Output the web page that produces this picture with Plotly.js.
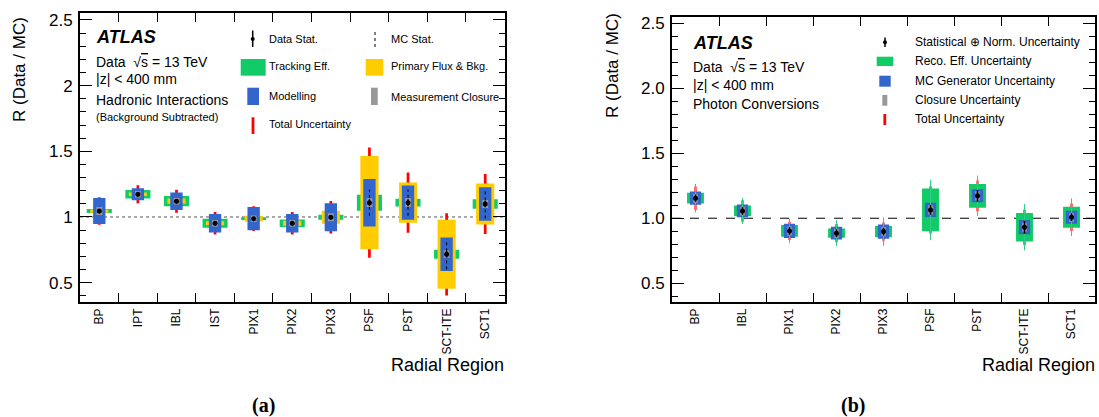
<!DOCTYPE html>
<html>
<head>
<meta charset="utf-8">
<script src="https://cdn.plot.ly/plotly-3.0.1.min.js"></script>
<style>html,body{margin:0;padding:0;background:#fff;}#chart{width:1099px;height:417px;}</style>
</head>
<body>
<div id="chart"></div>
<script>
// ---------- Panel (a): hadronic interactions ----------
const regionsA   = ['BP','IPT','IBL','IST','PIX1','PIX2','PIX3','PSF','PST','SCT-ITE','SCT1'];
const ratioA     = [1.045, 1.173, 1.120, 0.952, 0.987, 0.952, 0.998, 1.109, 1.109, 0.716, 1.099];
const totalA     = [0.105, 0.068, 0.088, 0.085, 0.094, 0.085, 0.123, 0.420, 0.230, 0.313, 0.228];
const trackingA  = [0.015, 0.033, 0.039, 0.034, 0.010, 0.028, 0.019, 0.061, 0.029, 0.034, 0.036];
const fluxA      = [0.012, 0.013, 0.020, 0.015, 0.022, 0.020, 0.050, 0.355, 0.153, 0.263, 0.156];
const modellingA = [0.099, 0.046, 0.067, 0.070, 0.088, 0.070, 0.107, 0.181, 0.130, 0.127, 0.127];
const closureA   = [0.030, 0.025, 0.025, 0.025, 0.025, 0.025, 0.030, 0.034, 0.034, 0.028, 0.030];
const dataStatA  = [0.012, 0.012, 0.012, 0.012, 0.012, 0.012, 0.012, 0.025, 0.025, 0.025, 0.025];
const mcStatA    = [0.020, 0.020, 0.020, 0.020, 0.020, 0.020, 0.020, 0.100, 0.100, 0.115, 0.110];

// ---------- Panel (b): photon conversions ----------
const regionsB   = ['BP','IBL','PIX1','PIX2','PIX3','PSF','PST','SCT-ITE','SCT1'];
const ratioB     = [1.154, 1.056, 0.902, 0.885, 0.897, 1.064, 1.172, 0.931, 1.008];
const statNormB  = [0.028, 0.030, 0.030, 0.030, 0.030, 0.038, 0.045, 0.050, 0.030];
const recoB      = [0.041, 0.041, 0.045, 0.036, 0.044, 0.164, 0.091, 0.110, 0.081];
const generatorB = [0.051, 0.049, 0.055, 0.049, 0.054, 0.055, 0.050, 0.055, 0.050];
const closureB   = [0.035, 0.035, 0.035, 0.035, 0.035, 0.035, 0.035, 0.035, 0.035];
const totalB     = [0.090, 0.083, 0.070, 0.070, 0.070, 0.182, 0.118, 0.137, 0.106];
const recoLineB  = [0.110, 0.100, 0.095, 0.100, 0.110, 0.233, 0.156, 0.178, 0.145];

const C = {green:'#11cc66', yellow:'#ffcc00', blue:'#3366cc', gray:'#999999', red:'#ff0000'};
const FONT = 'Liberation Sans, Arial, Helvetica, sans-serif';

function band(x, c, e, width, color, xa, ya) {
  return {type:'bar', x:x, y:e.map(v=>2*v), base:c.map((v,i)=>v-e[i]), width:width,
    marker:{color:color, line:{width:0}}, xaxis:xa, yaxis:ya, showlegend:false, hoverinfo:'skip'};
}
function segs(x, c, e, color, width, dash, xa, ya) {
  const xs=[], ys=[];
  x.forEach((k,i)=>{ xs.push(k,k,null); ys.push(c[i]-e[i], c[i]+e[i], null); });
  return {type:'scatter', mode:'lines', x:xs, y:ys, line:{color:color, width:width, dash:dash},
    xaxis:xa, yaxis:ya, showlegend:false, hoverinfo:'skip', connectgaps:false};
}
function stat(x, c, e, xa, ya) {
  return {type:'scatter', mode:'markers', x:x, y:c, marker:{color:'black', size:5},
    error_y:{type:'data', array:e, visible:true, width:0, thickness:1.5, color:'black'},
    xaxis:xa, yaxis:ya, showlegend:false, hoverinfo:'skip'};
}

const traces = [
  band(regionsA, ratioA, totalA, 0.07, C.red, 'x', 'y'),
  band(regionsA, ratioA, trackingA, 0.65, C.green, 'x', 'y'),
  band(regionsA, ratioA, fluxA, 0.47, C.yellow, 'x', 'y'),
  band(regionsA, ratioA, modellingA, 0.32, C.blue, 'x', 'y'),
  band(regionsA, ratioA, closureA, 0.15, C.gray, 'x', 'y'),
  segs(regionsA, ratioA, mcStatA, 'black', 1, 'dot', 'x', 'y'),
  stat(regionsA, ratioA, dataStatA, 'x', 'y'),

  segs(regionsB, ratioB, recoLineB, '#33cc88', 1, 'solid', 'x2', 'y2'),
  band(regionsB, ratioB, totalB, 0.045, C.red, 'x2', 'y2'),
  band(regionsB, ratioB, recoB, 0.36, C.green, 'x2', 'y2'),
  band(regionsB, ratioB, generatorB, 0.24, C.blue, 'x2', 'y2'),
  band(regionsB, ratioB, closureB, 0.10, C.gray, 'x2', 'y2'),
  stat(regionsB, ratioB, statNormB, 'x2', 'y2')
];

const W = 1099, H = 417;
const px = v => v / W, py = v => 1 - v / H;

function xAxis(domain, cats, anchor) {
  return {domain:domain, anchor:anchor, type:'category', categoryorder:'array', categoryarray:cats,
    range:[-0.5, cats.length-0.5], tickson:'boundaries', ticks:'inside', ticklen:9, tickwidth:1,
    tickcolor:'black', showline:true, linecolor:'black', linewidth:2, mirror:'allticks',
    tickangle:-90, tickfont:{family:FONT, size:12, color:'black'}, showgrid:false, zeroline:false,
    fixedrange:true};
}
function yAxis(domain, anchor, fmt, range) {
  return {domain:domain, anchor:anchor, range:range, tick0:0.5, dtick:0.5, tickformat:fmt,
    ticks:'inside', ticklen:12, tickwidth:1, tickcolor:'black',
    minor:{dtick:0.1, tick0:0, ticks:'inside', ticklen:6, tickwidth:1, tickcolor:'black', showgrid:false},
    showline:true, linecolor:'black', linewidth:2, mirror:'allticks', showgrid:false, zeroline:false,
    tickfont:{family:FONT, size:17, color:'black'}, ticklabelstandoff:2, fixedrange:true};
}

const shapes = [
  {type:'line', xref:'x domain', yref:'y', x0:0, x1:1, y0:1, y1:1, layer:'below', line:{color:'#555', width:1, dash:'dot'}},
  {type:'line', xref:'x2 domain', yref:'y2', x0:0, x1:1, y0:1, y1:1, layer:'below', line:{color:'black', width:1, dash:'dash'}}
];
function rect(x0,x1,y0,y1,color){ shapes.push({type:'rect', xref:'paper', yref:'paper', x0:px(x0), x1:px(x1), y0:py(y1), y1:py(y0), line:{width:0}, fillcolor:color}); }
function vline(x,y0,y1,color,width,dash){ shapes.push({type:'line', xref:'paper', yref:'paper', x0:px(x), x1:px(x), y0:py(y1), y1:py(y0), line:{color:color, width:width, dash:dash||'solid'}}); }
function dot(x,y,r){ shapes.push({type:'circle', xref:'paper', yref:'paper', x0:px(x-r), x1:px(x+r), y0:py(y+r), y1:py(y-r), line:{width:0}, fillcolor:'black'}); }

// legend (a)
vline(252.7, 30.5, 47, 'black', 1.5); dot(252.7, 39, 2);
vline(375, 30.5, 47, 'black', 1, 'dot');
rect(240.7, 265.7, 59, 75.7, C.green);
rect(365.7, 383.3, 59, 75.7, C.yellow);
rect(247.3, 259, 87.7, 105, C.blue);
rect(371, 377.7, 87.7, 105, C.gray);
rect(251.6, 254.4, 117.3, 134, C.red);
// legend (b)
vline(885, 37.5, 47, 'black', 1.5); dot(885, 42.3, 2);
rect(876.7, 893.3, 56.7, 66, C.green);
rect(879.3, 890.7, 75.7, 86.7, C.blue);
rect(882.3, 887.3, 95, 105.7, C.gray);
rect(883.4, 886.2, 114, 125, C.red);

const annotations = [];
function txt(x, y, text, size, opts) {
  annotations.push(Object.assign({xref:'paper', yref:'paper', x:px(x), y:py(y), text:text, showarrow:false,
    xanchor:'left', yanchor:'middle', font:{family:FONT, size:size, color:'black'}, borderpad:0}, opts||{}));
}
const sqrtS = 'Data  √<span style="text-decoration:overline">s</span> = 13 TeV';
// panel (a) texts
txt(95, 37, '<b><i>ATLAS</i></b>', 18);
txt(95, 62.3, sqrtS, 14);
txt(95, 79.3, '|z| &lt; 400 mm', 14);
txt(95, 100, 'Hadronic Interactions', 14);
txt(95, 116.7, '(Background Subtracted)', 11);
txt(268, 39.3, 'Data Stat.', 11);
txt(268, 66, 'Tracking Eff.', 11);
txt(268, 95.5, 'Modelling', 11);
txt(268, 124.3, 'Total Uncertainty', 11);
txt(390, 39.3, 'MC Stat.', 11);
txt(390, 66, 'Primary Flux &amp; Bkg.', 11);
txt(390, 97, 'Measurement Closure', 11);
// panel (b) texts
txt(692, 43, '<b><i>ATLAS</i></b>', 18);
txt(692, 66.7, sqrtS, 14);
txt(692, 85, '|z| &lt; 400 mm', 14);
txt(692, 104, 'Photon Conversions', 14);
txt(914, 42.3, 'Statistical ⊕ Norm. Uncertainty', 12);
txt(914, 61, 'Reco. Eff. Uncertainty', 12);
txt(914, 80.7, 'MC Generator Uncertainty', 12);
txt(914, 100, 'Closure Uncertainty', 12);
txt(914, 119, 'Total Uncertainty', 12);
// axis titles
txt(19, 70, 'R (Data / MC)', 17, {xanchor:'center', textangle:-90});
txt(612, 66, 'R (Data / MC)', 17, {xanchor:'center', textangle:-90});
txt(505, 365, 'Radial Region', 18, {xanchor:'right'});
txt(1096, 365, 'Radial Region', 18, {xanchor:'right'});
// panel labels
txt(263.5, 405, '<b>(a)</b>', 20, {xanchor:'center', font:{family:'Liberation Serif, Times New Roman, serif', size:20, color:'black'}});
txt(852.5, 405, '<b>(b)</b>', 20, {xanchor:'center', font:{family:'Liberation Serif, Times New Roman, serif', size:20, color:'black'}});

const layout = {
  width:W, height:H, margin:{l:0, r:0, t:0, b:0}, paper_bgcolor:'white', plot_bgcolor:'white',
  barmode:'overlay', showlegend:false, font:{family:FONT, color:'black'},
  xaxis: xAxis([px(80), px(504.5)], regionsA, 'y'),
  yaxis: yAxis([py(301.7), py(12.7)], 'x', '', [0.355, 2.555]),
  xaxis2: xAxis([px(672), px(1095)], regionsB, 'y2'),
  yaxis2: yAxis([py(301.7), py(16.7)], 'x2', '.1f', [0.358, 2.55]),
  shapes: shapes, annotations: annotations
};

Plotly.newPlot('chart', traces, layout, {staticPlot:true, displayModeBar:false});
</script>
</body>
</html>
